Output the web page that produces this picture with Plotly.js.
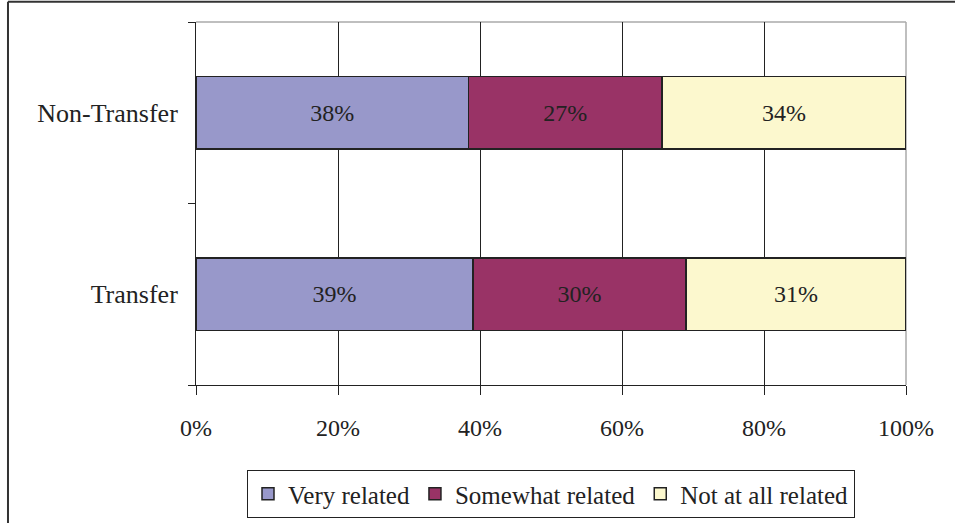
<!DOCTYPE html>
<html>
<head>
<meta charset="utf-8">
<script src="https://cdn.plot.ly/plotly-3.0.1.min.js"></script>
<style>html,body{margin:0;padding:0;background:#fff;}#chart{width:955px;height:523px;}</style>
</head>
<body>
<div id="chart"></div>
<script>
const categories = ['Transfer', 'Non-Transfer'];
const seriesNames = ['Very related', 'Somewhat related', 'Not at all related'];
const veryRelated = [39, 38];
const somewhatRelated = [30, 27];
const notAtAllRelated = [31, 34];
const tickVals = [0, 20, 40, 60, 80, 100];
const tickText = ['0%', '20%', '40%', '60%', '80%', '100%'];

const colors = ['#9898CA', '#993366', '#FCF8CE'];
const FONT = 'Liberation Serif';
const seriesData = [veryRelated, somewhatRelated, notAtAllRelated];

const traces = seriesData.map((vals, i) => ({
  type: 'bar',
  orientation: 'h',
  name: seriesNames[i],
  y: categories,
  x: vals,
  text: vals.map(v => v + '%'),
  textposition: 'inside',
  insidetextanchor: 'middle',
  textangle: 0,
  textfont: {family: FONT, size: 24, color: '#222'},
  constraintext: 'none',
  marker: {color: colors[i], line: {color: '#222', width: 1.5}},
  hoverinfo: 'skip'
}));

const layout = {
  width: 955, height: 523,
  margin: {l: 196, r: 49, t: 22, b: 138, autoexpand: false},
  paper_bgcolor: '#fff', plot_bgcolor: '#fff',
  barmode: 'stack', barnorm: 'percent', bargap: 0.6,
  font: {family: FONT, size: 24, color: '#222'},
  showlegend: true,
  legend: {
    orientation: 'h', xref: 'paper', x: 0.5, xanchor: 'center',
    yref: 'container', y: 0.1013, yanchor: 'top',
    bordercolor: '#222', borderwidth: 1, font: {family: FONT, size: 25, color: '#222'},
    traceorder: 'normal', itemwidth: 30
  },
  xaxis: {
    range: [0, 100], tickvals: tickVals, ticktext: tickText,
    tickfont: {family: FONT, size: 24, color: '#222'},
    showgrid: true, gridcolor: '#222', gridwidth: 1,
    showline: true, linecolor: '#222', linewidth: 1,
    ticks: 'outside', ticklen: 9, tickcolor: '#222', ticklabelstandoff: 12,
    zeroline: false, fixedrange: true
  },
  yaxis: {
    type: 'category', categoryorder: 'array', categoryarray: categories,
    tickfont: {family: FONT, size: 26, color: '#222'},
    showgrid: false, showline: true, linecolor: '#222', linewidth: 1,
    ticks: 'outside', ticklen: 7, tickcolor: '#222', tickson: 'boundaries',
    ticklabelstandoff: 12, zeroline: false, fixedrange: true
  },
  shapes: [
    {type: 'line', xref: 'paper', yref: 'paper', x0: 0, x1: 1, y0: 1, y1: 1, layer: 'between', line: {color: '#aaa', width: 1.5}},
    {type: 'line', xref: 'paper', yref: 'paper', x0: 1, x1: 1, y0: 0, y1: 1, layer: 'between', line: {color: '#aaa', width: 1.5}},
    {type: 'line', xref: 'paper', yref: 'paper', x0: -0.2648, x1: -0.2648, y0: 1.056, y1: -0.5, layer: 'above', line: {color: '#333', width: 2}},
    {type: 'line', xref: 'paper', yref: 'paper', x0: -0.2648, x1: 1.2, y0: 1.056, y1: 1.056, layer: 'above', line: {color: '#333', width: 2}}
  ],
  hovermode: false
};

Plotly.newPlot('chart', traces, layout, {displayModeBar: false, staticPlot: true});
</script>
</body>
</html>
